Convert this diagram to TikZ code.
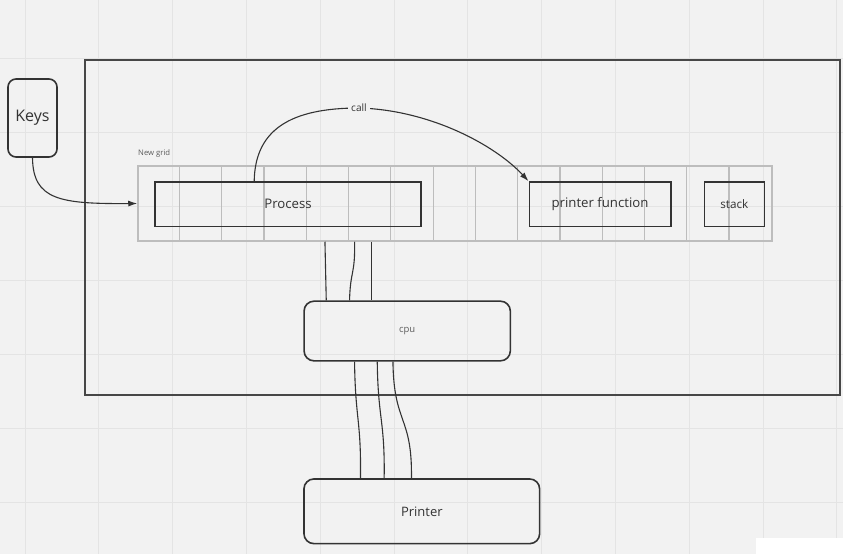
\documentclass[tikz,border=0pt]{standalone}
\usepackage{fontspec}
\setmainfont{Open Sans}
\usetikzlibrary{arrows.meta}
\definecolor{bg}{HTML}{F2F2F2}
\definecolor{bgline}{HTML}{E4E4E4}
\definecolor{ink}{HTML}{333333}
\definecolor{cellline}{HTML}{BDBDBD}
\begin{document}
\begin{tikzpicture}
[   x=1pt,y=-1pt,
    box/.style={draw=ink,line width=1.6pt,inner sep=0pt,text=ink,font=\fontsize{#1}{16}\selectfont},
    rbox/.style={box=#1,rounded corners=10pt},
    wire/.style={draw=ink,line width=1.1pt},
    arrow/.style={wire,-{Latex[length=9pt,width=6pt]}},
]
%%%%%%%%%%%%%%%%%%%% BACKGROUND %%%%%%%%%%%%%%%%%%%%%%%%%%%%%%%%%%%
    \useasboundingbox (0,0) rectangle (843,554);
    \fill[bg] (0,0) rectangle (843,554);
    \foreach \gx in {0,...,11}
    {
        \draw[bgline,line width=1pt] (25+\gx*73.8,0) -- (25+\gx*73.8,554);
    }
    \foreach \gy in {0,...,6}
    {
        \draw[bgline,line width=1pt] (0,58+\gy*74) -- (843,58+\gy*74);
    }
    \fill[white] (756,538) rectangle (843,554);


%%%%%%%%%%%%%%%%%%%% FRAME %%%%%%%%%%%%%%%%%%%%%%%%%%%%%%%%%%%
    \node[draw=ink!90,line width=2pt,minimum width=755,minimum height=335] (frame) at (462.5,227.5) {};


%%%%%%%%%%%%%%%%%%%% GRID %%%%%%%%%%%%%%%%%%%%%%%%%%%%%%%%%%%
    \node[anchor=west,inner sep=0pt,text=ink!80,font=\fontsize{7.7}{9}\selectfont] (gridname) at (138,153) {New grid};
    \node[draw=cellline,line width=1.5pt,minimum width=634,minimum height=75] (grid) at (455,203.5) {};
    \foreach \k in {1,...,14}
    {
        \draw[cellline,line width=1.2pt] ([xshift=\k*42.27pt]grid.north west) -- ([xshift=\k*42.27pt]grid.south west);
    }
    \node[box=13.2,minimum width=266,minimum height=44.5] (process) at (288,204.3) {Process};
    \node[box=13.2,minimum width=141.4,minimum height=44.7] (printf) at (600,204.3) {printer function};
    \node[box=11.7,minimum width=60,minimum height=44.7] (stack) at (734.3,204.3) {stack};


%%%%%%%%%%%%%%%%%%%% DEVICES %%%%%%%%%%%%%%%%%%%%%%%%%%%%%%%%%%%
    \node[rbox=16,rounded corners=8pt,minimum width=49,minimum height=78] (keys) at (32.5,118) {Keys};
    \node[rbox=9.5,text=ink!80,minimum width=206.3,minimum height=59.7] (cpu) at (407.2,331) {cpu};
    \node[rbox=13,minimum width=235.7,minimum height=64.7] (printer) at (421.8,511.3) {Printer};


%%%%%%%%%%%%%%%%%%%% CONNECTIONS %%%%%%%%%%%%%%%%%%%%%%%%%%%%%%%%%%%
    \draw[arrow] (keys.south) .. controls (33,200) and (60,204) .. (grid.west);
    \draw[arrow] ([xshift=100pt]process.north west) .. controls (255,130) and (290,108) .. (359,108)
        node[fill=bg,inner xsep=3.5pt,inner ysep=1pt,text=ink,font=\fontsize{10.1}{12}\selectfont] (call) {call}
        .. controls (430,110) and (495,145) .. (printf.north west);

    % bus grid -> cpu
    \draw[wire] ([xshift=187.7pt]grid.south west) -- ([xshift=23pt]cpu.north west);
    \draw[wire] ([xshift=217.3pt]grid.south west) .. controls (355.3,275) and (350.3,270) .. ([xshift=46.3pt]cpu.north west);
    \draw[wire] ([xshift=234pt]grid.south west) -- ([xshift=68pt]cpu.north west);

    % bus cpu -> printer
    \draw[wire] ([xshift=51.3pt]cpu.south west) .. controls (355.3,420) and (361.3,420) .. ([xshift=57.3pt]printer.north west);
    \draw[wire] ([xshift=74pt]cpu.south west) .. controls (378,420) and (385,420) .. ([xshift=81pt]printer.north west);
    \draw[wire] ([xshift=89.7pt]cpu.south west) .. controls (393.7,425) and (412.3,415) .. ([xshift=108.3pt]printer.north west);

\end{tikzpicture}
\end{document}
